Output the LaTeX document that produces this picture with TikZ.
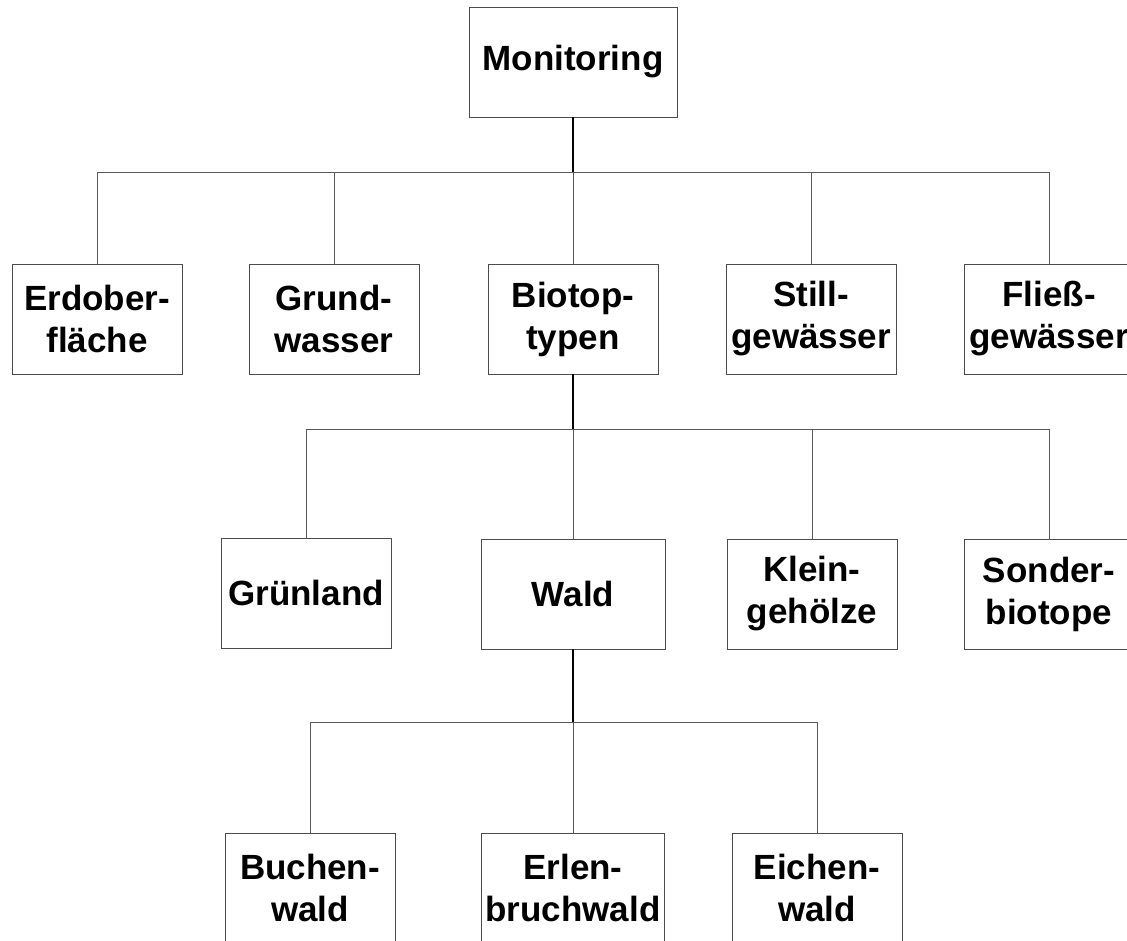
\documentclass[tikz,border=0pt]{standalone}
\usepackage{fontspec}
\setmainfont{Liberation Sans}
\begin{document}
\begin{tikzpicture}[x=1pt,y=-1pt,
  box/.style={draw=black!70, line width=0.9pt, minimum width=170pt, minimum height=110pt,
    inner sep=0pt, align=center, font=\fontsize{35}{42}\selectfont\bfseries},
  kid/.style={draw=black!65, line width=0.9pt},
  parentline/.style={draw=black, line width=1.6pt}]
\clip (0,0) rectangle (1127,940);
% level 0
\node[box, minimum width=208pt] (mon) at (573,62) {Monitoring};
% level 1
\node[box] (erd) at (97,319) {Erdober-\\fläche};
\node[box] (gru) at (334,319) {Grund-\\wasser};
\node[box] (bio) at (573,319) {Biotop-\\typen};
\node[box] (sti) at (811,319) {Still-\\gewässer};
\node[box] (fli) at (1049,319) {Fließ-\\gewässer};
% level 2
\node[box] (grl) at (306,593) {Grünland};
\node[box, minimum width=184pt] (wal) at (573,594) {Wald};
\node[box] (kle) at (812,594) {Klein-\\gehölze};
\node[box] (son) at (1049,594) {Sonder-\\biotope};
% level 3
\node[box] (buc) at (310,888) {Buchen-\\wald};
\node[box, minimum width=183pt] (erl) at (573,888) {Erlen-\\bruchwald};
\node[box] (eic) at (817,888) {Eichen-\\wald};
% junctions
\coordinate (j1) at (573,172);
\coordinate (j2) at (573,429);
\coordinate (j3) at (573,722);
% connectors
\draw[kid] (j1) -| (erd.north);
\draw[kid] (j1) -| (gru.north);
\draw[kid] (j1) -- (bio.north);
\draw[kid] (j1) -| (sti.north);
\draw[kid] (j1) -| (fli.north);
\draw[parentline] (mon.south) -- (j1);
\draw[kid] (j2) -| (grl.north);
\draw[kid] (j2) -- (wal.north);
\draw[kid] (j2) -| (kle.north);
\draw[kid] (j2) -| (son.north);
\draw[parentline] (bio.south) -- (j2);
\draw[kid] (j3) -| (buc.north);
\draw[kid] (j3) -- (erl.north);
\draw[kid] (j3) -| (eic.north);
\draw[parentline] (wal.south) -- (j3);
\end{tikzpicture}
\end{document}
